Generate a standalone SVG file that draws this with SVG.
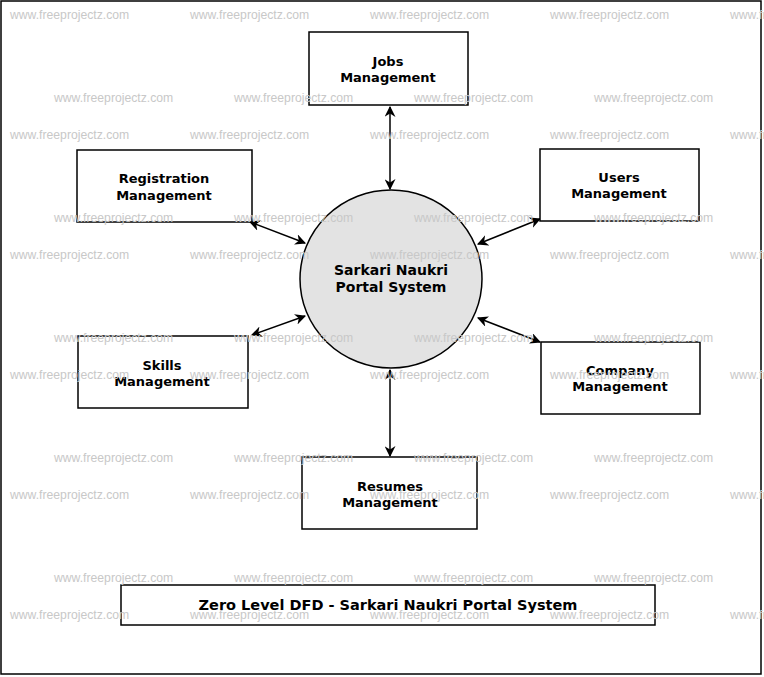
<svg xmlns="http://www.w3.org/2000/svg" width="764" height="677" viewBox="0 0 764 677">
<style>
.b{fill:#fff;stroke:#000;stroke-width:1.5}
.t{font-family:"DejaVu Sans",sans-serif;font-weight:bold;font-size:13px;text-anchor:middle}
.w{font-family:"Liberation Sans",Arial,sans-serif;font-size:12.2px;fill:#c8c8c8}
.c{stroke:#000;stroke-width:1.5;fill:none;marker-start:url(#a);marker-end:url(#a)}
</style>
<defs><marker id="a" viewBox="0 0 10 10" refX="9" refY="5" markerWidth="11" markerHeight="11" markerUnits="userSpaceOnUse" orient="auto-start-reverse"><path d="M0,0 L10,5 L0,10 L3,5 z" fill="#000"/></marker></defs>
<rect x="0" y="0" width="764" height="677" fill="#fff"/>
<rect x="1" y="1" width="760" height="673" fill="none" stroke="#000" stroke-width="1.5"/>
<g id="connectors">
<line class="c" x1="390" y1="107" x2="390" y2="189"/>
<line class="c" x1="250" y1="222" x2="305" y2="243"/>
<line class="c" x1="540" y1="219" x2="478" y2="244"/>
<line class="c" x1="252" y1="335" x2="305" y2="316"/>
<line class="c" x1="540" y1="342" x2="478" y2="318"/>
<line class="c" x1="390" y1="370" x2="390" y2="456"/>
</g>
<g id="center"><ellipse cx="391" cy="279" rx="91" ry="89" fill="#e3e3e3" stroke="#000" stroke-width="1.5"/><text class="t" x="391" y="275" style="font-size:14px">Sarkari Naukri</text><text class="t" x="391" y="292" style="font-size:14px">Portal System</text></g>
<g id="jobs"><rect class="b" x="309" y="32" width="159" height="73"/><text class="t" x="388" y="66">Jobs</text><text class="t" x="388" y="82">Management</text></g>
<g id="registration"><rect class="b" x="77" y="150" width="175" height="72"/><text class="t" x="164" y="183">Registration</text><text class="t" x="164" y="200">Management</text></g>
<g id="users"><rect class="b" x="540" y="149" width="159" height="72"/><text class="t" x="619" y="182">Users</text><text class="t" x="619" y="198">Management</text></g>
<g id="skills"><rect class="b" x="78" y="336" width="170" height="72"/><text class="t" x="162" y="370">Skills</text><text class="t" x="162" y="386">Management</text></g>
<g id="company"><rect class="b" x="541" y="342" width="159" height="72"/><text class="t" x="620" y="375">Company</text><text class="t" x="620" y="391">Management</text></g>
<g id="resumes"><rect class="b" x="302" y="457" width="175" height="72"/><text class="t" x="390" y="491">Resumes</text><text class="t" x="390" y="507">Management</text></g>
<g id="title"><rect class="b" x="121" y="585" width="534" height="40"/><text class="t" x="388" y="610" style="font-size:14.5px">Zero Level DFD - Sarkari Naukri Portal System</text></g>
<g id="watermarks" class="w">
<text x="10" y="19">www.freeprojectz.com</text><text x="190" y="19">www.freeprojectz.com</text><text x="370" y="19">www.freeprojectz.com</text><text x="550" y="19">www.freeprojectz.com</text><text x="730" y="19">www.freeprojectz.com</text>
<text x="54" y="102">www.freeprojectz.com</text><text x="234" y="102">www.freeprojectz.com</text><text x="414" y="102">www.freeprojectz.com</text><text x="594" y="102">www.freeprojectz.com</text>
<text x="10" y="139">www.freeprojectz.com</text><text x="190" y="139">www.freeprojectz.com</text><text x="370" y="139">www.freeprojectz.com</text><text x="550" y="139">www.freeprojectz.com</text><text x="730" y="139">www.freeprojectz.com</text>
<text x="54" y="222">www.freeprojectz.com</text><text x="234" y="222">www.freeprojectz.com</text><text x="414" y="222">www.freeprojectz.com</text><text x="594" y="222">www.freeprojectz.com</text>
<text x="10" y="259">www.freeprojectz.com</text><text x="190" y="259">www.freeprojectz.com</text><text x="370" y="259">www.freeprojectz.com</text><text x="550" y="259">www.freeprojectz.com</text><text x="730" y="259">www.freeprojectz.com</text>
<text x="54" y="342">www.freeprojectz.com</text><text x="234" y="342">www.freeprojectz.com</text><text x="414" y="342">www.freeprojectz.com</text><text x="594" y="342">www.freeprojectz.com</text>
<text x="10" y="379">www.freeprojectz.com</text><text x="190" y="379">www.freeprojectz.com</text><text x="370" y="379">www.freeprojectz.com</text><text x="550" y="379">www.freeprojectz.com</text><text x="730" y="379">www.freeprojectz.com</text>
<text x="54" y="462">www.freeprojectz.com</text><text x="234" y="462">www.freeprojectz.com</text><text x="414" y="462">www.freeprojectz.com</text><text x="594" y="462">www.freeprojectz.com</text>
<text x="10" y="499">www.freeprojectz.com</text><text x="190" y="499">www.freeprojectz.com</text><text x="370" y="499">www.freeprojectz.com</text><text x="550" y="499">www.freeprojectz.com</text><text x="730" y="499">www.freeprojectz.com</text>
<text x="54" y="582">www.freeprojectz.com</text><text x="234" y="582">www.freeprojectz.com</text><text x="414" y="582">www.freeprojectz.com</text><text x="594" y="582">www.freeprojectz.com</text>
<text x="10" y="619">www.freeprojectz.com</text><text x="190" y="619">www.freeprojectz.com</text><text x="370" y="619">www.freeprojectz.com</text><text x="550" y="619">www.freeprojectz.com</text><text x="730" y="619">www.freeprojectz.com</text>
</g>
</svg>
